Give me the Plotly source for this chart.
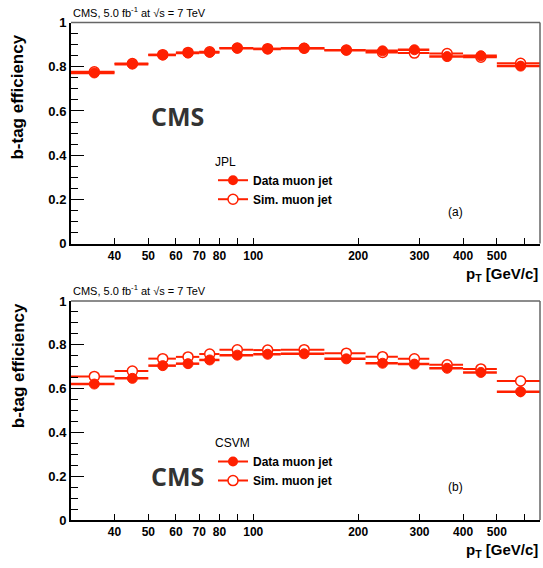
import plotly.graph_objects as go
import math

# ---------------- data ----------------
bin_lo = [30, 40, 50, 60, 70, 80, 100, 120, 160, 210, 260, 320, 400, 500]
bin_hi = [40, 50, 60, 70, 80, 100, 120, 160, 210, 260, 320, 400, 500, 670]
pt_center = [35, 45, 55, 65, 75, 90, 110, 140, 185, 235, 290, 360, 450, 585]

jpl_data = [0.772, 0.812, 0.853, 0.862, 0.865, 0.884, 0.880, 0.884, 0.875, 0.872, 0.877, 0.846, 0.850, 0.803]
jpl_data_err = [0.006, 0.005, 0.005, 0.005, 0.005, 0.004, 0.004, 0.004, 0.005, 0.006, 0.007, 0.008, 0.010, 0.022]
jpl_sim = [0.777, 0.815, 0.855, 0.865, 0.868, 0.885, 0.882, 0.884, 0.876, 0.865, 0.862, 0.860, 0.843, 0.816]
jpl_sim_err = [0.004, 0.003, 0.003, 0.003, 0.003, 0.003, 0.003, 0.003, 0.003, 0.004, 0.005, 0.006, 0.007, 0.010]

csvm_data = [0.621, 0.647, 0.705, 0.714, 0.731, 0.753, 0.757, 0.759, 0.736, 0.716, 0.712, 0.693, 0.674, 0.586]
csvm_data_err = [0.007, 0.006, 0.006, 0.006, 0.006, 0.005, 0.005, 0.005, 0.006, 0.007, 0.008, 0.009, 0.011, 0.025]
csvm_sim = [0.656, 0.680, 0.737, 0.745, 0.758, 0.777, 0.776, 0.778, 0.762, 0.746, 0.736, 0.709, 0.690, 0.635]
csvm_sim_err = [0.004, 0.003, 0.003, 0.003, 0.003, 0.003, 0.003, 0.003, 0.003, 0.004, 0.005, 0.006, 0.007, 0.010]

y_ticks = [0, 0.2, 0.4, 0.6, 0.8, 1]
y_ticktext = ["0", "0.2", "0.4", "0.6", "0.8", "1"]
x_ticks = [40, 50, 60, 70, 80, 100, 200, 300, 400, 500]
x_minor = [90, 600]

RED = "#ff2000"
W, H = 543, 568
FONT = "Liberation Sans"

x_minus = [c - lo for c, lo in zip(pt_center, bin_lo)]
x_plus = [hi - c for c, hi in zip(pt_center, bin_hi)]

fig = go.Figure()


def add_pair(xa, ya, data, data_err, sim, sim_err):
    fig.add_trace(go.Scatter(
        x=pt_center, y=sim, xaxis=xa, yaxis=ya, mode="markers",
        marker=dict(symbol="circle", size=10, color="white", line=dict(color=RED, width=1.5)),
        error_x=dict(type="data", symmetric=False, array=x_plus, arrayminus=x_minus,
                     color=RED, thickness=2, width=0),
        error_y=dict(type="data", array=sim_err, color=RED, thickness=2, width=0),
        showlegend=False, hoverinfo="skip"))
    fig.add_trace(go.Scatter(
        x=pt_center, y=data, xaxis=xa, yaxis=ya, mode="markers",
        marker=dict(symbol="circle", size=10, color=RED, line=dict(color=RED, width=1)),
        error_x=dict(type="data", symmetric=False, array=x_plus, arrayminus=x_minus,
                     color=RED, thickness=2.5, width=0),
        error_y=dict(type="data", array=data_err, color=RED, thickness=2, width=0),
        showlegend=False, hoverinfo="skip"))


add_pair("x", "y", jpl_data, jpl_data_err, jpl_sim, jpl_sim_err)
add_pair("x2", "y2", csvm_data, csvm_data_err, csvm_sim, csvm_sim_err)

# legend entries
for xa, ya, leg in [("x", "y", "legend"), ("x2", "y2", "legend2")]:
    fig.add_trace(go.Scatter(x=[None], y=[None], xaxis=xa, yaxis=ya, mode="lines+markers",
                             name="<b>Data muon jet</b>", legend=leg,
                             marker=dict(size=10, color=RED), line=dict(color=RED, width=2)))
    fig.add_trace(go.Scatter(x=[None], y=[None], xaxis=xa, yaxis=ya, mode="lines+markers",
                             name="<b>Sim. muon jet</b>", legend=leg,
                             marker=dict(size=10, color="white", line=dict(color=RED, width=1.5)),
                             line=dict(color=RED, width=2)))

x0, x1 = 71 / W, 540 / W
top_dom = [1 - 243 / H, 1 - 16 / H]
bot_dom = [1 - 527 / H, 1 - 302 / H]

xrange_log = [math.log10(30), math.log10(665)]

xaxis_common = dict(
    type="log", range=xrange_log, domain=[x0, x1],
    tickvals=x_ticks, ticktext=[str(v) for v in x_ticks],
    ticks="inside", ticklen=6, tickwidth=1, tickcolor="black",
    minor=dict(tickvals=x_minor, ticks="inside", ticklen=6, tickcolor="black"),
    showline=True, linecolor="black", linewidth=2, showgrid=False, zeroline=False,
    tickfont=dict(family=FONT, size=12, color="black", weight="bold"),
)
yaxis_common = dict(
    range=[0, 1], tickvals=y_ticks, ticktext=y_ticktext,
    ticks="inside", ticklen=13, tickwidth=1, tickcolor="black",
    minor=dict(dtick=0.05, ticks="inside", ticklen=7, tickcolor="black"),
    showline=True, linecolor="black", linewidth=2, showgrid=False, zeroline=False,
    tickfont=dict(family=FONT, size=13, color="black", weight="bold"),
)

fig.update_layout(
    width=W, height=H, margin=dict(l=0, r=0, t=0, b=0),
    paper_bgcolor="white", plot_bgcolor="white",
    xaxis=dict(xaxis_common, anchor="y"),
    yaxis=dict(yaxis_common, domain=top_dom, anchor="x"),
    xaxis2=dict(xaxis_common, anchor="y2"),
    yaxis2=dict(yaxis_common, domain=bot_dom, anchor="x2"),
    legend=dict(x=213 / W, y=1 - 147 / H, xanchor="left", yanchor="top",
                bgcolor="rgba(0,0,0,0)", font=dict(family=FONT, size=12, color="black"),
                title=dict(text="JPL", font=dict(family=FONT, size=12, color="black")),
                itemwidth=30, tracegroupgap=0),
    legend2=dict(x=213 / W, y=1 - 436 / H, xanchor="left", yanchor="top",
                 bgcolor="rgba(0,0,0,0)", font=dict(family=FONT, size=12, color="black"),
                 title=dict(text="CSVM", font=dict(family=FONT, size=12, color="black")),
                 itemwidth=30, tracegroupgap=0),
)

# frame (top/right in grey)
for xr, yr in [("x domain", "y domain"), ("x2 domain", "y2 domain")]:
    fig.add_shape(type="line", xref=xr, yref=yr, x0=0, x1=1, y0=1, y1=1, line=dict(color="#666", width=1.5))
    fig.add_shape(type="line", xref=xr, yref=yr, x0=1, x1=1, y0=0, y1=1, line=dict(color="#666", width=1.5))

ann = []
for ytop, ycms, ylab, lab, ytitle in [(16, 112, 211, "(a)", 93), (302, 482, 493, "(b)", 369)]:
    ann.append(dict(text="CMS, 5.0 fb<sup>-1</sup> at √s = 7 TeV", x=71 / W, y=1 - (ytop - 2) / H,
                    xref="paper", yref="paper", xanchor="left", yanchor="bottom", showarrow=False,
                    font=dict(family=FONT, size=11, color="black")))
    ann.append(dict(text="<b>CMS</b>", x=177 / W, y=1 - ycms / H, xref="paper", yref="paper",
                    xanchor="center", yanchor="middle", showarrow=False,
                    font=dict(family="Open Sans", size=25, color="#333333")))
    ann.append(dict(text=lab, x=455 / W, y=1 - ylab / H, xref="paper", yref="paper",
                    xanchor="center", yanchor="middle", showarrow=False,
                    font=dict(family=FONT, size=12, color="black")))
    ann.append(dict(text="<b>b-tag efficiency</b>", x=18 / W, y=1 - ytitle / H, xref="paper", yref="paper",
                    xanchor="center", yanchor="middle", textangle=-90, showarrow=False,
                    font=dict(family=FONT, size=17, color="black")))
for yb in [275, 558]:
    ann.append(dict(text="<b>p<sub>T</sub> [GeV/c]</b>", x=540 / W, y=1 - yb / H, xref="paper", yref="paper",
                    xanchor="right", yanchor="middle", showarrow=False,
                    font=dict(family=FONT, size=15, color="black")))
fig.update_layout(annotations=ann)

fig.write_html("out.html")
